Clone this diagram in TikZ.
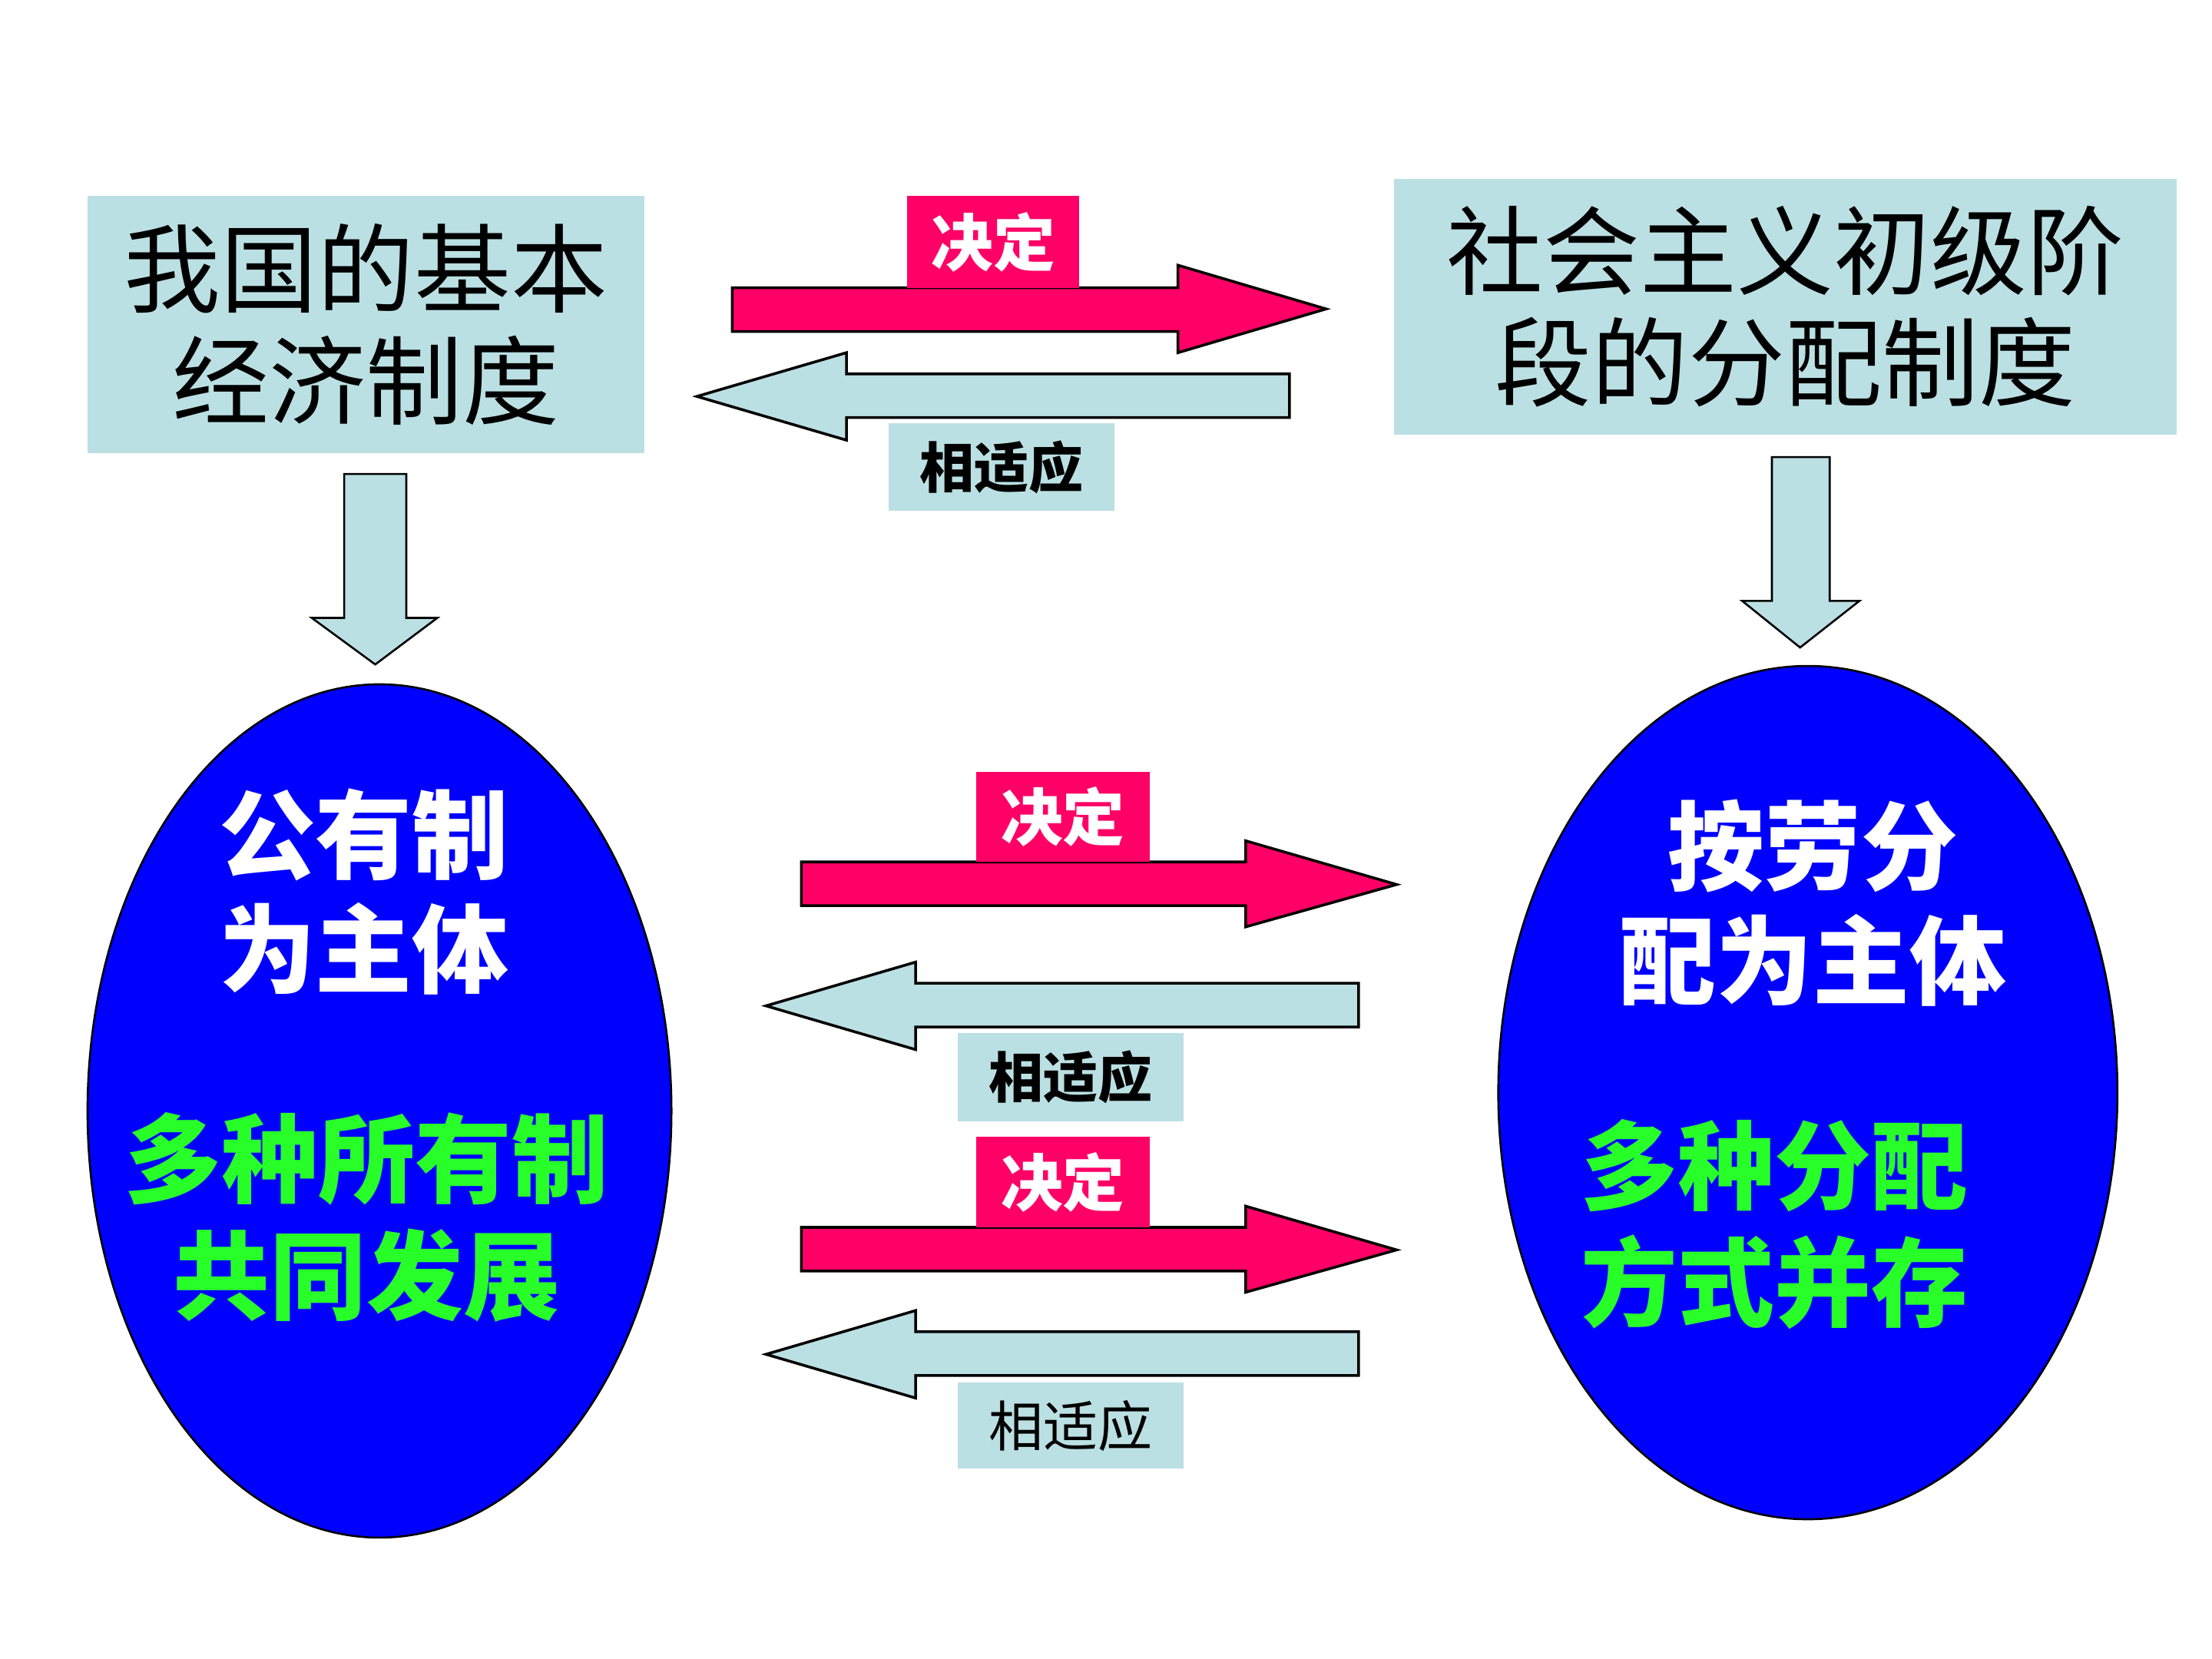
\documentclass[tikz,border=0pt]{standalone}
\usepackage{fontspec}
\newfontfamily\cjk{Noto Sans CJK SC}
\usetikzlibrary{shapes.geometric}
\definecolor{lblue}{RGB}{187,224,227}
\definecolor{hotpink}{RGB}{255,0,102}
\definecolor{vblue}{RGB}{0,0,255}
\definecolor{lgreen}{RGB}{40,255,40}
\tikzset{
  topbox/.style={fill=lblue, draw=none, inner sep=0pt, align=center, font=\cjk\fontsize{39}{45}\selectfont},
  oval/.style={ellipse, fill=vblue, draw=black, line width=0.8pt, inner sep=0pt},
  whitetxt/.style={text=white, align=center, font=\cjk\bfseries\fontsize{39}{46}\selectfont},
  greentxt/.style={text=lgreen, align=center, font=\cjk\bfseries\fontsize{39}{47}\selectfont},
  redarrow/.style={fill=hotpink, draw=black, line width=1.1pt, line join=miter},
  bluearrow/.style={fill=lblue, draw=black, line width=1.1pt, line join=miter},
  downarrow/.style={fill=lblue, draw=black, line width=0.8pt, line join=miter},
  redlabel/.style={fill=hotpink, draw=none, text=white, inner sep=0pt, font=\cjk\bfseries\fontsize{25}{28}\selectfont},
  bluelabel/.style={fill=lblue, draw=none, text=black, inner sep=0pt, font=\cjk\bfseries\fontsize{22}{26}\selectfont},
  bluelabelreg/.style={fill=lblue, draw=none, text=black, inner sep=0pt, font=\cjk\fontsize{22}{26}\selectfont}
}
\begin{document}
\begin{tikzpicture}[x=0.02cm,y=-0.02cm]
\useasboundingbox[fill=white] (0,0) rectangle (1568,1176);

% top boxes
\node[topbox, minimum width=7.9cm, minimum height=3.64cm] (tl) at (259.5,230) {我国的基本\\经济制度};
\node[topbox, minimum width=11.1cm, minimum height=3.62cm] (tr) at (1265.5,217.5) {社会主义初级阶\\段的分配制度};

% down arrows
\draw[downarrow] (244,336) -- (288,336) -- (288,438) -- (310,438) -- (266,471) -- (221,438) -- (244,438) -- cycle;
\draw[downarrow] (1256,324) -- (1297,324) -- (1297,426) -- (1318,426) -- (1276,459) -- (1235,426) -- (1256,426) -- cycle;

% ellipses
\node[oval, minimum width=8.28cm, minimum height=12.1cm] (le) at (269,787.5) {};
\node[oval, minimum width=8.78cm, minimum height=12.1cm] (re) at (1281.5,774.5) {};

\node[whitetxt] (lw) at (258,632) {公有制\\为主体};
\node[greentxt] (lg) at (260,863) {多种所有制\\共同发展};
\node[whitetxt] (rw) at (1285,640) {按劳分\\配为主体};
\node[greentxt] (rg) at (1258,868) {多种分配\\方式并存};

% top arrow pair
\draw[redarrow] (519,204) -- (835,204) -- (835,188) -- (940,219) -- (835,250) -- (835,235) -- (519,235) -- cycle;
\node[redlabel, minimum width=2.44cm, minimum height=1.3cm] (d1) at (704,171.5) {决定};
\draw[bluearrow] (494,281) -- (600,250) -- (600,265) -- (914,265) -- (914,296) -- (600,296) -- (600,312) -- cycle;
\node[bluelabel, minimum width=3.2cm, minimum height=1.24cm] (s1) at (710,331) {相适应};

% middle arrow pair 1
\draw[redarrow] (568,611) -- (883,611) -- (883,596) -- (990,627) -- (883,657) -- (883,642) -- (568,642) -- cycle;
\node[redlabel, minimum width=2.46cm, minimum height=1.28cm] (d2) at (753.5,579) {决定};
\draw[bluearrow] (543,713) -- (649,682) -- (649,697) -- (963,697) -- (963,728) -- (649,728) -- (649,744) -- cycle;
\node[bluelabel, minimum width=3.2cm, minimum height=1.26cm] (s2) at (759,763.5) {相适应};

% middle arrow pair 2
\draw[redarrow] (568,870) -- (883,870) -- (883,855) -- (990,886) -- (883,916) -- (883,901) -- (568,901) -- cycle;
\node[redlabel, minimum width=2.46cm, minimum height=1.28cm] (d3) at (753.5,838) {决定};
\draw[bluearrow] (543,960) -- (649,929) -- (649,944) -- (963,944) -- (963,975) -- (649,975) -- (649,991) -- cycle;
\node[bluelabelreg, minimum width=3.2cm, minimum height=1.22cm] (s3) at (759,1010.5) {相适应};
\end{tikzpicture}
\end{document}
